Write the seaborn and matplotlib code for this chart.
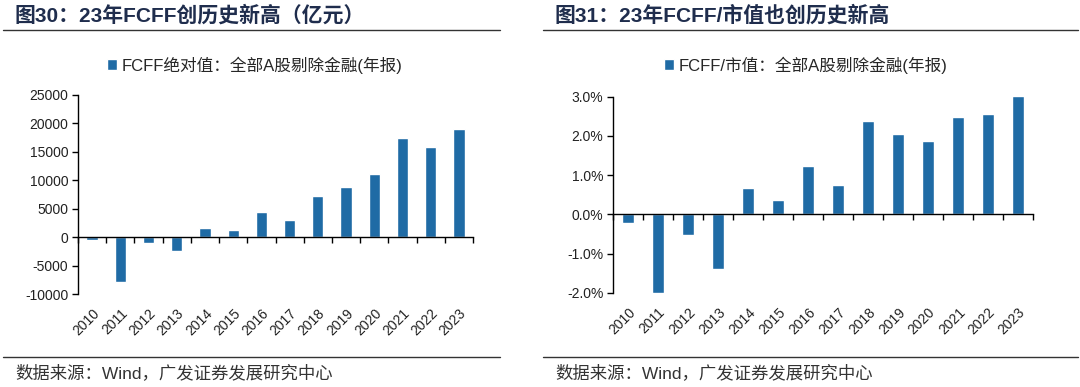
import numpy as np
import matplotlib
matplotlib.use("Agg")
import matplotlib.pyplot as plt
from matplotlib.lines import Line2D
from matplotlib.ticker import FuncFormatter
import seaborn as sns

# 数据
years = [str(y) for y in range(2010, 2024)]
fcff_abs = [-500, -7900, -1000, -2500, 1650, 1250, 4400, 3100, 7300, 8800, 11050, 17500, 15850, 19000]
fcff_mv = [-0.21, -2.00, -0.54, -1.40, 0.66, 0.37, 1.22, 0.76, 2.38, 2.06, 1.87, 2.47, 2.55, 3.02]

title_l = "图30：23年FCFF创历史新高（亿元）"
title_r = "图31：23年FCFF/市值也创历史新高"
legend_l = "FCFF绝对值：全部A股剔除金融(年报)"
legend_r = "FCFF/市值：全部A股剔除金融(年报)"
source = "数据来源：Wind，广发证券发展研究中心"

sns.set_theme(style="ticks")
plt.rcParams["font.family"] = ["Liberation Sans", "Noto Sans CJK SC", "DejaVu Sans"]

BAR = "#1F6BA5"
TITLE_C = "#1F2D4D"
W, H = 1080, 387

fig = plt.figure(figsize=(W / 100, H / 100), dpi=100)
fig.patch.set_facecolor("white")


def fx(px):
    return px / W


def fy(py):
    return 1 - py / H


def panel(rect, vals, ylim, yticks, fmt, legend, leg_xy):
    ax = fig.add_axes(rect)
    sns.barplot(x=years, y=vals, color=BAR, width=0.4, saturation=1,
                label=legend, ax=ax)
    ax.set_xlim(-0.5, len(years) - 0.5)
    ax.set_ylim(*ylim)
    ax.set_yticks(yticks)
    ax.yaxis.set_major_formatter(FuncFormatter(fmt))
    ax.set_xlabel("")
    ax.set_ylabel("")
    for s in ["top", "right"]:
        ax.spines[s].set_visible(False)
    ax.spines["bottom"].set_position(("data", 0))
    ax.spines["bottom"].set_linewidth(1)
    ax.spines["left"].set_linewidth(1)
    ax.spines["bottom"].set_color("black")
    ax.spines["left"].set_color("black")
    ax.set_xticks(np.arange(-0.5, len(years), 1))
    ax.tick_params(axis="x", labelbottom=False, length=4, width=1, direction="out", color="black")
    ax.tick_params(axis="y", length=4, width=1, direction="out", color="black",
                   labelsize=10, labelcolor="#222222", pad=3)
    sec = ax.secondary_xaxis("bottom")
    sec.set_xticks(range(len(years)))
    sec.set_xticklabels(years, rotation=45, ha="right", rotation_mode="anchor",
                        fontsize=10, color="#222222")
    sec.tick_params(length=0, pad=9)
    sec.spines["bottom"].set_visible(False)
    ax.legend(loc="center", bbox_to_anchor=leg_xy, bbox_transform=fig.transFigure,
              frameon=False, fontsize=12, handlelength=0.6, handleheight=0.6,
              handletextpad=0.3, borderpad=0)
    return ax


panel([fx(78), fy(294), fx(473 - 78), (294 - 95) / H], fcff_abs,
      (-10000, 25000), np.arange(-10000, 25001, 5000),
      lambda v, p: f"{v:.0f}", legend_l, (fx(255), fy(65)))

panel([fx(613), fy(292.7), fx(1033 - 613), (292.7 - 96.7) / H], fcff_mv,
      (-2.0, 3.0), np.arange(-2.0, 3.01, 1.0),
      lambda v, p: f"{v:.1f}%", legend_r, (fx(806), fy(65)))

# 标题与分隔线
for x0, x1, t in [(15, 500, title_l), (555, 1078, title_r)]:
    fig.text(fx(x0), fy(15), t, fontsize=15, fontweight="bold", color=TITLE_C,
             ha="left", va="center")
    xs = [fx(x0 - 12), fx(x1)]
    fig.add_artist(Line2D(xs, [fy(29.5)] * 2, color="#333333", lw=1))
    fig.add_artist(Line2D(xs, [fy(356.5)] * 2, color="#333333", lw=1))
    fig.text(fx(x0), fy(373), source, fontsize=12.5, color="#333333",
             ha="left", va="center")

fig.savefig("out.png", dpi=100, facecolor="white")
